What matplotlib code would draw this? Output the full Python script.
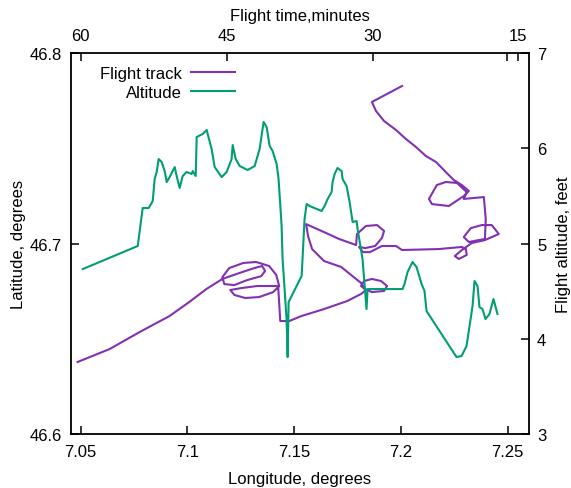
import matplotlib
matplotlib.use("Agg")
import matplotlib.pyplot as plt
from matplotlib.lines import Line2D

plt.rcParams['font.family'] = ['Liberation Sans', 'DejaVu Sans']
plt.rcParams['font.size'] = 12

# flight track: longitude / latitude (degrees)
track_lon = [7.0486, 7.0636, 7.0776, 7.0916, 7.1009, 7.1089, 7.1164, 7.1243, 7.1313, 7.1350,
             7.1364, 7.1346, 7.1280, 7.1220, 7.1173, 7.1164, 7.1196, 7.1262, 7.1322, 7.1383,
             7.1416, 7.1430, 7.1402, 7.1336, 7.1271, 7.1220, 7.1201, 7.1252, 7.1327, 7.1425,
             7.1435,
             7.1477, 7.1533, 7.1640, 7.1748, 7.1813, 7.1836, 7.1813, 7.1827, 7.1864, 7.1907,
             7.1935, 7.1921, 7.1864, 7.1832, 7.1813, 7.1720, 7.1640, 7.1584, 7.1565, 7.1556,
             7.1640, 7.1710, 7.1790, 7.1794, 7.1836, 7.1888, 7.1921, 7.1911, 7.1879, 7.1832,
             7.1804, 7.1822, 7.1855, 7.1911, 7.1977, 7.2005, 7.2178, 7.2285, 7.2304, 7.2308,
             7.2271, 7.2252, 7.2285, 7.2332, 7.2393, 7.2458, 7.2425, 7.2379, 7.2327, 7.2294,
             7.2318, 7.2393, 7.2397, 7.2388, 7.2294, 7.2308, 7.2262, 7.2210, 7.2168, 7.2131,
             7.2145, 7.2224, 7.2294, 7.2318, 7.2285, 7.2248, 7.2210, 7.2164, 7.2117, 7.2070,
             7.2023, 7.1977, 7.1921, 7.1883, 7.1864, 7.2005]
track_lat = [46.6378, 46.6446, 46.6535, 46.6619, 46.6693, 46.6761, 46.6814, 46.6845, 46.6871, 46.6882,
             46.6856, 46.6829, 46.6808, 46.6782, 46.6787, 46.6824, 46.6871, 46.6898, 46.6903, 46.6882,
             46.6835, 46.6777, 46.6745, 46.6719, 46.6714, 46.6730, 46.6756, 46.6766, 46.6777, 46.6777,
             46.6593,
             46.6593, 46.6619, 46.6656, 46.6698, 46.6735, 46.6756, 46.6777, 46.6803, 46.6814, 46.6803,
             46.6777, 46.6751, 46.6745, 46.6761, 46.6793, 46.6877, 46.6908, 46.6971, 46.7039, 46.7102,
             46.7060, 46.7024, 46.6992, 46.7050, 46.7092, 46.7097, 46.7066, 46.7029, 46.6987, 46.6976,
             46.6982, 46.6955, 46.6955, 46.6987, 46.6987, 46.6966, 46.6971, 46.6982, 46.6971, 46.6940,
             46.6919, 46.6934, 46.6966, 46.7003, 46.7018, 46.7050, 46.7097, 46.7097, 46.7081, 46.7034,
             46.7008, 46.7024, 46.7129, 46.7244, 46.7234, 46.7270, 46.7318, 46.7323, 46.7307, 46.7234,
             46.7207, 46.7197, 46.7249, 46.7276, 46.7307, 46.7333, 46.7375, 46.7428, 46.7459, 46.7507,
             46.7549, 46.7596, 46.7643, 46.7696, 46.7743, 46.7827]

# altitude vs flight time (minutes)
alt_time = [59.79, 54.14, 53.63, 53.01, 52.60, 52.40, 52.19, 51.99, 51.68, 51.37,
            51.16, 50.86, 50.34, 50.14, 49.83, 49.52, 49.11, 48.60, 48.49, 48.18,
            48.08, 47.47, 47.05, 46.95, 46.54, 46.23, 45.51, 45.00, 44.49, 44.38,
            44.07, 43.66, 42.84, 42.12, 41.61, 41.20, 40.89, 40.58, 40.27, 39.86,
            39.66, 39.35, 39.25, 38.84, 38.73, 38.63, 37.29, 36.99, 36.78, 36.47,
            35.24, 34.93, 34.62, 34.21, 34.11, 33.90, 33.60, 33.18, 33.08, 32.67,
            32.36, 32.05, 31.64, 31.54, 31.03, 30.62, 30.51, 26.92, 26.71, 26.40,
            25.89, 25.48, 24.96, 24.66, 24.45, 21.37, 20.85, 20.34, 20.03, 19.72,
            19.52, 19.21, 19.01, 18.70, 18.39, 17.98, 17.57, 17.16]
alt_feet = [4.732, 4.974, 5.373, 5.373, 5.446, 5.677, 5.751, 5.887, 5.856, 5.761,
            5.646, 5.698, 5.803, 5.709, 5.583, 5.709, 5.751, 5.730, 5.761, 5.709,
            6.118, 6.150, 6.192, 6.150, 5.992, 5.803, 5.698, 5.751, 5.887, 6.034,
            5.887, 5.814, 5.772, 5.814, 5.992, 6.276, 6.223, 6.024, 5.971, 5.835,
            5.677, 5.184, 4.837, 4.207, 3.808, 4.386, 4.659, 5.257, 5.415, 5.394,
            5.341, 5.394, 5.467, 5.541, 5.646, 5.730, 5.793, 5.761, 5.677, 5.604,
            5.436, 5.226, 5.236, 5.152, 4.837, 4.312, 4.522, 4.522, 4.575, 4.701,
            4.806, 4.753, 4.575, 4.501, 4.291, 3.808, 3.819, 3.924, 4.134, 4.344,
            4.606, 4.554, 4.333, 4.312, 4.207, 4.260, 4.417, 4.260]

lon_ticks = [7.05, 7.1, 7.15, 7.2, 7.25]
lon_labels = ['7.05', '7.1', '7.15', '7.2', '7.25']
lat_ticks = [46.6, 46.7, 46.8]
time_ticks = [60, 45, 30, 15]
alt_ticks = [3, 4, 5, 6, 7]

purple = '#8231b5'
green = '#009e73'

fig = plt.figure(figsize=(5.71, 4.89), dpi=100)
rect = [0.1235, 0.1104, 0.8024, 0.7791]
ax = fig.add_axes(rect)
ax2 = fig.add_axes(rect, frameon=False)

ax.plot(track_lon, track_lat, color=purple, lw=1.5)
ax2.plot(alt_time, alt_feet, color=green, lw=1.5)

ax.set_xlim(7.0453, 7.2598)
ax.set_ylim(46.6, 46.8)
ax.set_xticks(lon_ticks)
ax.set_xticklabels(lon_labels)
ax.set_yticks(lat_ticks)
ax.set_yticklabels(['46.6', '46.7', '46.8'])

ax2.set_xlim(61.05, 13.95)
ax2.set_ylim(3, 7)
ax2.set_xticks(time_ticks)
ax2.set_xticks([16.13], minor=True)
ax2.set_yticks(alt_ticks)
ax2.xaxis.tick_top()
ax2.xaxis.set_label_position('top')
ax2.yaxis.tick_right()
ax2.yaxis.set_label_position('right')
ax2.patch.set_visible(False)

for a in (ax, ax2):
    a.tick_params(which='both', direction='in', length=5.8, width=1.1, labelsize=12)
ax.tick_params(axis='x', pad=7)
ax.tick_params(axis='y', pad=6)
ax2.tick_params(axis='x', pad=7)
ax2.tick_params(axis='y', pad=6)

for s in ax.spines.values():
    s.set_linewidth(1.3)

ax.set_xlabel('Longitude, degrees', labelpad=9)
ax.set_ylabel('Latitude, degrees', labelpad=3)
ax2.set_xlabel('Flight time,minutes', labelpad=6)
ax2.set_ylabel('Flight altitude, feet', labelpad=7, rotation=90)

handles = [Line2D([], [], color=purple, lw=1.5), Line2D([], [], color=green, lw=1.5)]
ax.legend(handles, ['Flight track', 'Altitude'], loc='upper left', frameon=False,
          markerfirst=False, handlelength=2.6, handletextpad=0.55, labelspacing=0.25,
          borderpad=0, borderaxespad=0, bbox_to_anchor=(0.065, 0.967))

fig.savefig('out.png', dpi=100)
